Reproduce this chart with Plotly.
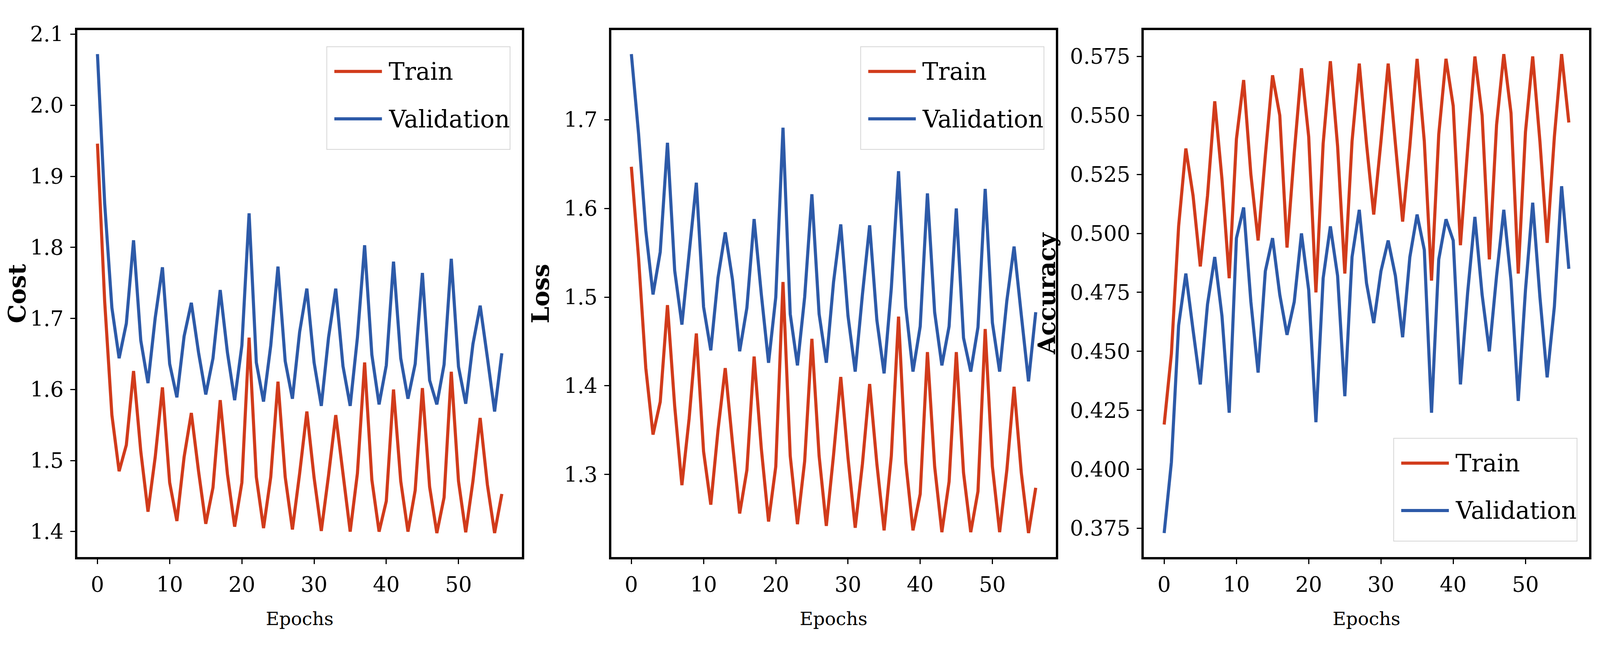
import plotly.graph_objects as go

epochs = list(range(57))

cost_train = [1.946, 1.724, 1.564, 1.485, 1.522, 1.626, 1.513, 1.428, 1.505, 1.603,
              1.469, 1.415, 1.505, 1.567, 1.485, 1.411, 1.462, 1.585, 1.481, 1.407,
              1.469, 1.673, 1.477, 1.405, 1.477, 1.611, 1.477, 1.403, 1.482, 1.569,
              1.476, 1.401, 1.479, 1.564, 1.482, 1.400, 1.482, 1.638, 1.473, 1.400,
              1.443, 1.600, 1.471, 1.400, 1.458, 1.602, 1.463, 1.398, 1.448, 1.625,
              1.471, 1.399, 1.471, 1.560, 1.466, 1.398, 1.453]
cost_val = [2.072, 1.862, 1.715, 1.644, 1.693, 1.810, 1.669, 1.609, 1.701, 1.772,
            1.636, 1.589, 1.675, 1.722, 1.652, 1.593, 1.644, 1.740, 1.652, 1.585,
            1.662, 1.848, 1.638, 1.583, 1.662, 1.773, 1.640, 1.587, 1.681, 1.742,
            1.638, 1.577, 1.673, 1.742, 1.633, 1.577, 1.673, 1.803, 1.649, 1.579,
            1.634, 1.780, 1.644, 1.587, 1.636, 1.764, 1.613, 1.579, 1.635, 1.784,
            1.632, 1.580, 1.664, 1.718, 1.645, 1.569, 1.651]

loss_train = [1.647, 1.544, 1.420, 1.345, 1.382, 1.491, 1.377, 1.288, 1.363, 1.459,
              1.326, 1.266, 1.350, 1.420, 1.336, 1.256, 1.305, 1.433, 1.329, 1.247,
              1.309, 1.517, 1.321, 1.244, 1.315, 1.453, 1.321, 1.242, 1.322, 1.410,
              1.319, 1.240, 1.312, 1.402, 1.312, 1.237, 1.321, 1.478, 1.314, 1.237,
              1.278, 1.438, 1.309, 1.235, 1.292, 1.438, 1.302, 1.235, 1.281, 1.464,
              1.309, 1.235, 1.305, 1.399, 1.302, 1.234, 1.285]
loss_val = [1.774, 1.684, 1.575, 1.503, 1.551, 1.674, 1.530, 1.469, 1.549, 1.629,
            1.489, 1.440, 1.522, 1.573, 1.520, 1.439, 1.488, 1.588, 1.503, 1.426,
            1.500, 1.691, 1.481, 1.423, 1.500, 1.616, 1.481, 1.426, 1.517, 1.582,
            1.479, 1.416, 1.503, 1.581, 1.474, 1.414, 1.510, 1.642, 1.489, 1.416,
            1.467, 1.617, 1.483, 1.423, 1.467, 1.600, 1.454, 1.416, 1.466, 1.622,
            1.471, 1.416, 1.496, 1.557, 1.480, 1.405, 1.483]

acc_train = [0.419, 0.449, 0.503, 0.536, 0.516, 0.486, 0.516, 0.556, 0.523, 0.481,
             0.540, 0.565, 0.525, 0.497, 0.533, 0.567, 0.550, 0.494, 0.534, 0.570,
             0.541, 0.475, 0.538, 0.573, 0.537, 0.483, 0.539, 0.572, 0.538, 0.508,
             0.539, 0.572, 0.538, 0.505, 0.537, 0.574, 0.539, 0.480, 0.542, 0.574,
             0.554, 0.495, 0.536, 0.575, 0.550, 0.489, 0.546, 0.576, 0.551, 0.483,
             0.543, 0.575, 0.539, 0.496, 0.541, 0.576, 0.547]
acc_val = [0.373, 0.403, 0.461, 0.483, 0.459, 0.436, 0.470, 0.490, 0.465, 0.424,
           0.498, 0.511, 0.471, 0.441, 0.484, 0.498, 0.474, 0.457, 0.471, 0.500,
           0.476, 0.420, 0.481, 0.503, 0.482, 0.431, 0.490, 0.510, 0.479, 0.462,
           0.484, 0.497, 0.482, 0.456, 0.490, 0.508, 0.493, 0.424, 0.489, 0.506,
           0.497, 0.436, 0.475, 0.507, 0.474, 0.450, 0.482, 0.510, 0.480, 0.429,
           0.476, 0.513, 0.473, 0.439, 0.469, 0.520, 0.485]

series_names = ["Train", "Validation"]
y_titles = ["Cost", "Loss", "Accuracy"]
x_title = "Epochs"
x_ticks = [0, 10, 20, 30, 40, 50]
cost_ticks = [1.4, 1.5, 1.6, 1.7, 1.8, 1.9, 2.0, 2.1]
loss_ticks = [1.3, 1.4, 1.5, 1.6, 1.7]
acc_ticks = [0.375, 0.400, 0.425, 0.450, 0.475, 0.500, 0.525, 0.550, 0.575]

RED = "#D13B1B"
BLUE = "#2D5AA8"
FONT = "DejaVu Serif"

# the browser viewport is capped at 4096 px wide, so the figure is sized to fit it
W, H = 4080, 1626

panels = [
    (cost_train, cost_val, cost_ticks, ".1f", "top"),
    (loss_train, loss_val, loss_ticks, ".1f", "top"),
    (acc_train, acc_val, acc_ticks, ".3f", "bottom"),
]
x_domains = [[0.0465, 0.3256], [0.3815, 0.6606], [0.7158, 0.9951]]
y_domain = [0.1303, 0.970]


def padded(lo, hi, frac=0.05):
    pad = (hi - lo) * frac
    return [lo - pad, hi + pad]


def add_legend(fig, n, where):
    # matplotlib-style legend box drawn with shapes (long line samples)
    xr = "x%s domain" % ("" if n == 1 else n)
    yr = "y%s domain" % ("" if n == 1 else n)
    x0, x1 = 0.561, 0.973
    top = 0.9686 if where == "top" else 0.2252
    bot = top - 0.195
    fig.add_shape(type="rect", xref=xr, yref=yr, x0=x0, x1=x1, y0=bot, y1=top,
                  line=dict(color="#d5d5d5", width=2), fillcolor="rgba(255,255,255,0.8)",
                  layer="above")
    rows = [top - 0.047, top - 0.137]
    for name, color, yy in zip(series_names, [RED, BLUE], rows):
        fig.add_shape(type="line", xref=xr, yref=yr, x0=x0 + 0.017, x1=x0 + 0.124,
                      y0=yy, y1=yy, line=dict(color=color, width=8), layer="above")
        fig.add_annotation(xref=xr, yref=yr, x=x0 + 0.137, y=yy, text=name,
                           showarrow=False, xanchor="left", yanchor="middle",
                           font=dict(family=FONT, size=61, color="black"))


fig = go.Figure()

for i, (tr, va, ticks, fmt, where) in enumerate(panels):
    n = i + 1
    suffix = "" if n == 1 else str(n)
    for name, data, color in zip(series_names, [tr, va], [RED, BLUE]):
        fig.add_trace(go.Scatter(x=epochs, y=data, mode="lines", name=name,
                                 line=dict(color=color, width=8),
                                 xaxis="x" + suffix, yaxis="y" + suffix,
                                 showlegend=False))
    lo = min(min(tr), min(va))
    hi = max(max(tr), max(va))
    axis_common = dict(showline=True, linewidth=6, linecolor="black", mirror=True,
                       showgrid=False, zeroline=False, ticks="outside", ticklen=12,
                       tickwidth=3, tickcolor="black", ticklabelstandoff=6,
                       tickfont=dict(family=FONT, size=54, color="black"))
    fig.update_layout(**{
        "xaxis" + suffix: dict(domain=x_domains[i], range=padded(0, 56),
                               anchor="y" + suffix, tickvals=x_ticks,
                               title=dict(text=x_title, standoff=42,
                                          font=dict(family=FONT, size=47, color="black")),
                               **axis_common),
        "yaxis" + suffix: dict(domain=y_domain, range=padded(lo, hi),
                               anchor="x" + suffix, tickvals=ticks, tickformat=fmt,
                               title=dict(text=y_titles[i], standoff=20,
                                          font=dict(family=FONT, size=61, color="black",
                                                    weight="bold")),
                               **axis_common),
    })
    add_legend(fig, n, where)

fig.update_layout(width=W, height=H, margin=dict(l=0, r=0, t=0, b=0),
                  paper_bgcolor="white", plot_bgcolor="white",
                  font=dict(family=FONT, color="black"))

fig.write_html("out.html")
